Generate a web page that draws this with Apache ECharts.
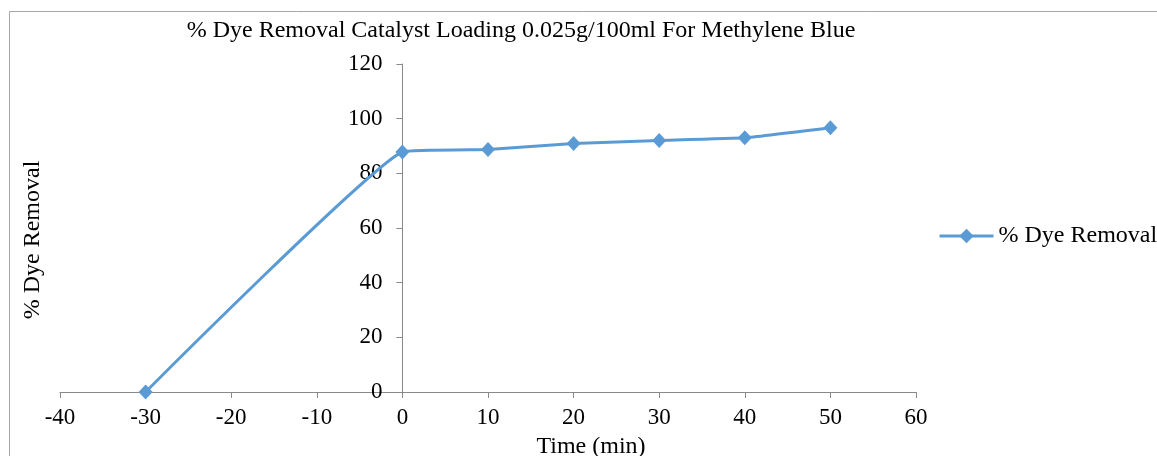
<!DOCTYPE html>
<html>
<head>
<meta charset="utf-8">
<script src="https://cdn.jsdelivr.net/npm/echarts@6/dist/echarts.min.js"></script>
<style>
  html, body { margin: 0; padding: 0; background: #fff; }
  #chart { width: 1157px; height: 456px; }
</style>
</head>
<body>
<div id="chart"></div>
<script>
// Time (min) and percentage of dye removed
const times = [-30, 0, 10, 20, 30, 40, 50];
const removal = [0, 87.8, 88.7, 90.9, 92.0, 93.0, 96.7];
const seriesName = '% Dye Removal';
const titleText = '% Dye Removal Catalyst Loading 0.025g/100ml For Methylene Blue';
const xAxisName = 'Time (min)';
const yAxisName = '% Dye Removal';

const FONT = '"Liberation Serif", "Times New Roman", serif';
const AXIS = '#898989';
const BLUE = '#5B9BD5';
const DIAMOND = 'path://M0,0 L1,1 L0,2 L-1,1 Z';

// x range of the plot; the vertical axis sits at time 0
const X_MIN = -40, X_MAX = 60;
const GRID_LEFT = 60, GRID_RIGHT = 241;
const plotWidth = 1157 - GRID_LEFT - GRID_RIGHT;
const zeroOffset = plotWidth * (0 - X_MIN) / (X_MAX - X_MIN);

const chart = echarts.init(document.getElementById('chart'));
chart.setOption({
  animation: false,
  backgroundColor: '#fff',
  textStyle: { fontFamily: FONT, color: '#000' },
  title: {
    text: titleText,
    left: 516, top: 14,
    textAlign: 'center',
    textStyle: { fontFamily: FONT, fontSize: 24, fontWeight: 'normal', color: '#000' }
  },
  legend: {
    data: [seriesName],
    left: 933, top: 219,
    itemWidth: 54, itemHeight: 18,
    lineStyle: { width: 3 },
    textStyle: { fontFamily: FONT, fontSize: 24, color: '#000' }
  },
  graphic: [{
    type: 'rect',
    shape: { x: 9.5, y: 11.5, width: 1160, height: 460 },
    style: { fill: 'none', stroke: '#a6a6a6', lineWidth: 1 },
    silent: true
  }, {
    // vertical axis title, set at the left edge of the frame
    type: 'text',
    x: 33, y: 240,
    rotation: Math.PI / 2,
    style: {
      text: yAxisName,
      font: '24px ' + FONT,
      fill: '#000',
      align: 'center',
      verticalAlign: 'middle'
    },
    silent: true
  }],
  grid: { left: GRID_LEFT, right: GRID_RIGHT, top: 64, bottom: 64, containLabel: false, outerBoundsMode: 'none' },
  xAxis: {
    type: 'value',
    min: X_MIN, max: X_MAX, interval: 10,
    name: xAxisName,
    nameLocation: 'middle',
    nameGap: 43,
    nameTextStyle: { fontFamily: FONT, fontSize: 24, color: '#000', padding: [0, 0, 0, 206] },
    axisLine: { show: true, onZero: true, lineStyle: { color: AXIS, width: 1 } },
    axisTick: { show: true, length: 6, lineStyle: { color: AXIS } },
    axisLabel: { fontFamily: FONT, fontSize: 23, color: '#000', margin: 14 },
    splitLine: { show: false }
  },
  yAxis: {
    type: 'value',
    min: 0, max: 120, interval: 20,
    position: 'left',
    offset: -zeroOffset,
    axisLine: { show: true, onZero: false, lineStyle: { color: AXIS, width: 1 } },
    axisTick: { show: true, length: 6, lineStyle: { color: AXIS } },
    axisLabel: { fontFamily: FONT, fontSize: 23, color: '#000', margin: 20 },
    splitLine: { show: false }
  },
  series: [{
    name: seriesName,
    type: 'line',
    data: times.map((t, i) => [t, removal[i]]),
    smooth: 0.1,
    symbol: DIAMOND,
    symbolSize: [14, 15],
    lineStyle: { color: BLUE, width: 3 },
    itemStyle: { color: BLUE },
    z: 3
  }]
});
</script>
</body>
</html>
